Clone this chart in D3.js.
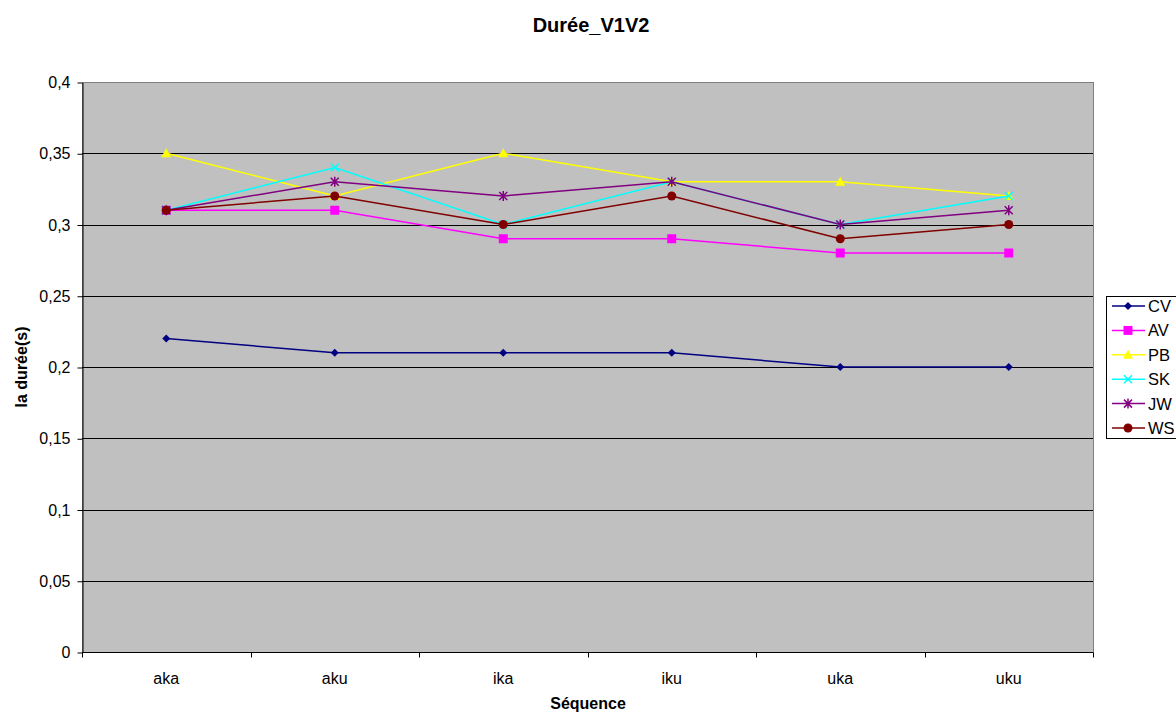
<!DOCTYPE html>
<html>
<head>
<meta charset="utf-8">
<script src="https://cdn.jsdelivr.net/npm/d3@7"></script>
<style>
  html, body { margin: 0; padding: 0; background: #fff; }
  svg { display: block; font-family: "Liberation Sans", Arial, sans-serif; }
</style>
</head>
<body>
<svg id="chart" width="1176" height="712"></svg>
<script>
// Sequences along the x axis
const categories = ["aka", "aku", "ika", "iku", "uka", "uku"];

// Duration (s) per speaker
const CV = [0.22, 0.21, 0.21, 0.21, 0.20, 0.20];
const AV = [0.31, 0.31, 0.29, 0.29, 0.28, 0.28];
const PB = [0.35, 0.32, 0.35, 0.33, 0.33, 0.32];
const SK = [0.31, 0.34, 0.30, 0.33, 0.30, 0.32];
const JW = [0.31, 0.33, 0.32, 0.33, 0.30, 0.31];
const WS = [0.31, 0.32, 0.30, 0.32, 0.29, 0.30];

const seriesNames = ["CV", "AV", "PB", "SK", "JW", "WS"];
const seriesValues = [CV, AV, PB, SK, JW, WS];
const yTicks = [0, 0.05, 0.1, 0.15, 0.2, 0.25, 0.3, 0.35, 0.4];

const colors = {
  CV: "#000080", AV: "#FF00FF", PB: "#FFFF00",
  SK: "#00FFFF", JW: "#800080", WS: "#800000"
};
const markers = { CV: "diamond", AV: "square", PB: "triangle", SK: "x", JW: "star", WS: "circle" };

const svg = d3.select("#chart");
const plot = { left: 82, top: 82, right: 1093, bottom: 652 };

const x = d3.scaleBand().domain(categories).range([plot.left, plot.right]).padding(0);
const y = d3.scaleLinear().domain([0, 0.4]).range([plot.bottom, plot.top]);
const fmt = d => String(+d.toFixed(2)).replace(".", ",");

// plot background
svg.append("rect")
  .attr("x", plot.left + 0.5).attr("y", plot.top + 0.5)
  .attr("width", plot.right - plot.left).attr("height", plot.bottom - plot.top)
  .attr("fill", "#C0C0C0").attr("stroke", "#808080").attr("stroke-width", 1);

// horizontal gridlines
svg.append("g").selectAll("line")
  .data(yTicks.filter(t => t > 0 && t < 0.4))
  .join("line")
  .attr("x1", plot.left).attr("x2", plot.right)
  .attr("y1", d => Math.round(y(d)) + 0.5).attr("y2", d => Math.round(y(d)) + 0.5)
  .attr("stroke", "#000").attr("stroke-width", 1);

// y axis
const yAxis = svg.append("g")
  .attr("transform", `translate(${plot.left + 0.5},0.5)`)
  .call(d3.axisLeft(y).tickValues(yTicks).tickFormat(fmt).tickSize(5).tickSizeOuter(0));
yAxis.select(".domain").attr("stroke", "#000");
yAxis.selectAll(".tick line").attr("stroke", "#000");
yAxis.selectAll("text").attr("font-size", 16).attr("fill", "#000").attr("x", -12)
  .attr("font-family", "Liberation Sans, Arial, sans-serif");

// x axis: ticks at category boundaries
const xAxisG = svg.append("g").attr("transform", `translate(0,${plot.bottom + 0.5})`);
xAxisG.append("line")
  .attr("x1", plot.left).attr("x2", plot.right)
  .attr("stroke", "#000");
const boundaries = categories.map(c => x(c)).concat([plot.right]);
xAxisG.selectAll("line.tk").data(boundaries).join("line")
  .attr("class", "tk")
  .attr("x1", d => Math.round(d) + 0.5).attr("x2", d => Math.round(d) + 0.5)
  .attr("y1", 0).attr("y2", 5).attr("stroke", "#000");
xAxisG.selectAll("text").data(categories).join("text")
  .attr("x", d => x(d) + x.bandwidth() / 2)
  .attr("y", 31)
  .attr("text-anchor", "middle")
  .attr("font-size", 16)
  .text(d => d);

// titles
svg.append("text").attr("x", 591).attr("y", 32).attr("text-anchor", "middle")
  .attr("font-size", 20).attr("font-weight", "bold").text("Durée_V1V2");
svg.append("text").attr("x", 588).attr("y", 709).attr("text-anchor", "middle")
  .attr("font-size", 16).attr("font-weight", "bold").text("Séquence");
svg.append("text")
  .attr("transform", `translate(27,${(plot.top + plot.bottom) / 2}) rotate(-90)`)
  .attr("text-anchor", "middle")
  .attr("font-size", 16).attr("font-weight", "bold").text("la durée(s)");

// marker drawing
function drawMarker(g, type, color) {
  switch (type) {
    case "diamond":
      g.append("path").attr("d", "M0,-4L4,0L0,4L-4,0Z").attr("fill", color);
      break;
    case "square":
      g.append("rect").attr("x", -4.5).attr("y", -4.5).attr("width", 9).attr("height", 9).attr("fill", color);
      break;
    case "triangle":
      g.append("path").attr("d", "M0,-5L5,4L-5,4Z").attr("fill", color);
      break;
    case "x":
      g.append("path").attr("d", "M-4,-4L4,4M-4,4L4,-4").attr("stroke", color).attr("stroke-width", 1.5).attr("fill", "none");
      break;
    case "star":
      g.append("path").attr("d", "M-4,-4L4,4M-4,4L4,-4M0,-5L0,5").attr("stroke", color).attr("stroke-width", 1.5).attr("fill", "none");
      break;
    case "circle":
      g.append("circle").attr("r", 4.5).attr("fill", color);
      break;
  }
}

// series lines and markers
const line = d3.line()
  .x((d, i) => x(categories[i]) + x.bandwidth() / 2)
  .y(d => y(d));

seriesNames.forEach((name, si) => {
  const vals = seriesValues[si];
  const g = svg.append("g");
  g.append("path").datum(vals).attr("d", line)
    .attr("fill", "none").attr("stroke", colors[name]).attr("stroke-width", 1.5);
  vals.forEach((v, i) => {
    const m = g.append("g")
      .attr("transform", `translate(${x(categories[i]) + x.bandwidth() / 2},${y(v)})`);
    drawMarker(m, markers[name], colors[name]);
  });
});

// legend
const legend = svg.append("g");
legend.append("rect")
  .attr("x", 1106.5).attr("y", 296.5).attr("width", 80).attr("height", 142)
  .attr("fill", "#fff").attr("stroke", "#000");
seriesNames.forEach((name, i) => {
  const cy = 306 + i * 24.4;
  const row = legend.append("g");
  row.append("line").attr("x1", 1112).attr("x2", 1145).attr("y1", cy).attr("y2", cy)
    .attr("stroke", colors[name]).attr("stroke-width", 1.5);
  drawMarker(row.append("g").attr("transform", `translate(1128,${cy})`), markers[name], colors[name]);
  row.append("text").attr("x", 1148).attr("y", cy + 6)
    .attr("font-size", 16.5).text(name);
});
</script>
</body>
</html>
